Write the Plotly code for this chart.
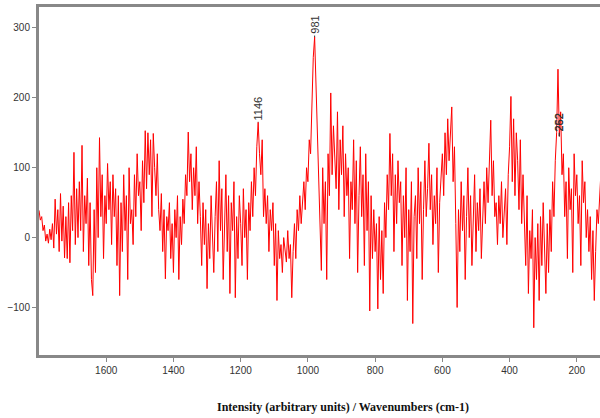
import numpy as np
import plotly.graph_objects as go

# Wavenumbers (cm-1), 4 cm-1 steps from 1800 down to 128
wavenumbers = np.arange(1800, 127, -4)

# Intensity values (arbitrary units)
intensity = [
    39, 25, 30, 10, 18, -5, 5, -8, 12, -3,
    20, -15, 55, 5, 40, -20, 63, -5, 45, -29,
    30, -30, 50, -36, 60, 10, 122, -10, 70, 0,
    80, 10, 132, -20, 60, 20, 85, -40, 50, -60,
    -83, 40, -50, 100, 0, 143, 30, 90, -30, 60,
    20, 106, 40, 80, -10, 90, 30, 70, -40, 60,
    -83, 50, -20, 90, 10, 60, -60, 100, 20, 40,
    -10, 90, 30, 120, 60, 80, 10, 110, 50, 153,
    70, 150, 90, 140, 30, 149, 100, 60, 120, 40,
    10, 63, -20, 40, -59, 30, 10, 50, -30, 20,
    -50, 40, 0, 60, -60, 30, -10, 55, 20, 90,
    60, 151, 80, 120, 40, 100, 60, 130, 20, 80,
    30, -40, 50, -10, 40, -73, 20, -30, 60, 0,
    -50, 30, 80, -20, 110, 10, 70, -60, 40, 90,
    -20, 60, -80, 50, 10, 80, -86, 30, -30, 60,
    20, -40, 70, 0, 40, -60, 50, 10, 80, 30,
    100, 60, 130, 165, 120, 90, 140, 30, 70, 20,
    60, -20, 40, 10, 50, -40, 20, -90, 10, -30,
    -10, -50, 0, -20, -35, 10, -30, -10, -86, -20,
    20, -30, 40, 10, 60, 20, 50, 80, 40, 100,
    80, 140, 120, 186, 258, 287, 220, 150, 100, 40,
    -47, 100, 20, 80, -60, 120, 60, 207, 90, 160,
    110, 70, 180, 40, 140, 90, 160, 30, 120, 60,
    100, -30, 80, 40, 140, 20, 110, -50, 60, 130,
    30, 90, -40, 120, 10, 80, -105, 60, -30, 40,
    -20, 20, -102, 30, -60, 10, -80, 50, 0, 90,
    40, 149, 60, 120, -20, 90, 20, 110, 50, 80,
    -40, 60, 0, 100, -90, 40, -20, 80, -123, 30,
    60, -30, 100, 20, 80, -60, 40, 110, 30, 70,
    135, 40, 90, -10, 60, 20, 100, -50, 50, 80,
    120, 60, 150, 90, 170, 110, 140, 187, 80, 130,
    20, -100, 40, -20, 80, 10, 60, -60, 30, 100,
    0, 60, -40, 40, 90, -20, 50, 10, 70, -30,
    40, 80, 20, 100, 50, 130, 168, 60, 110, 30,
    50, -10, 60, 20, 80, 0, 40, 70, -10, 90,
    130, 202, 80, 170, 60, 150, 110, 40, 140, 20,
    90, 30, -40, 60, -80, 10, -30, 40, -129, 0,
    -60, 20, -90, 30, -40, 50, -10, -80, 20, -50,
    40, -20, 80, 30, 110, 150, 241, 145, 180, 90,
    120, 30, 80, -30, 100, 40, 70, -50, 120, 60,
    90, 20, 60, -40, 110, 50, 80, 0, 40, -20,
    30, -60, 10, -90, -20, 40, 20, 70, 96,
]

# Peak labels: (position, height, label)
peak_pos = [1148, 980, 252, 252]
peak_val = [165, 287, 145, 145]
peak_txt = ["1146", "981", "262", "252"]
peak_ay = [-14, -12, -14, -14]

x_title = "Intensity (arbitrary units) / Wavenumbers (cm-1)"

fig = go.Figure()
fig.add_trace(go.Scatter(
    x=wavenumbers, y=intensity, mode="lines",
    line=dict(color="#ff0000", width=1),
    hoverinfo="skip", showlegend=False,
))

for px, pv, pt, pa in zip(peak_pos, peak_val, peak_txt, peak_ay):
    fig.add_annotation(
        x=px, y=pv, xref="x", yref="y", text=pt, textangle=-90,
        showarrow=True, arrowhead=0, arrowwidth=1, arrowcolor="#333333",
        ax=0, ay=pa, standoff=0,
        font=dict(family="Arial, Liberation Sans, sans-serif", size=11, color="#333333"),
    )

fig.add_annotation(
    x=(343 - 39) / 561, y=(355 - 407) / 348, xref="paper", yref="paper",
    text="<b>" + x_title + "</b>", showarrow=False,
    xanchor="center", yanchor="middle",
    font=dict(family="Liberation Serif, Times New Roman, serif", size=12, color="#111111"),
)

axis_font = dict(family="Arial, Liberation Sans, sans-serif", size=10, color="#333333")
fig.update_layout(
    width=600, height=418,
    margin=dict(l=39, r=0, t=7, b=63),
    paper_bgcolor="white", plot_bgcolor="white",
    xaxis=dict(
        range=[1800, 131], showgrid=False, zeroline=False,
        showline=True, linecolor="#888888", linewidth=3, mirror=True,
        ticks="outside", ticklen=4, tickcolor="#888888",
        tickvals=[1600, 1400, 1200, 1000, 800, 600, 400, 200],
        tickfont=axis_font,
    ),
    yaxis=dict(
        range=[-168, 330], showgrid=False, zeroline=False,
        showline=True, linecolor="#888888", linewidth=3, mirror=False,
        ticks="outside", ticklen=4, tickcolor="#888888",
        tickvals=[-100, 0, 100, 200, 300],
        tickfont=axis_font,
    ),
)

fig.write_html(
    "out.html",
    config={"displayModeBar": False},
    post_script="document.body.style.margin='0';",
)
